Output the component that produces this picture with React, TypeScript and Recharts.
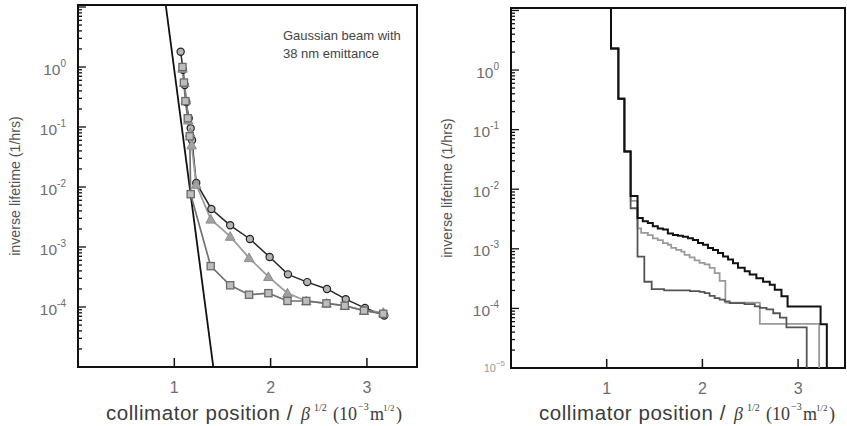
import React from 'react';
import { ComposedChart, Line, XAxis, YAxis, ReferenceArea } from 'recharts';

// ---------- Left panel data ----------
const circleX = [1.066, 1.09, 1.108, 1.125, 1.15, 1.17, 1.184, 1.228, 1.385, 1.58, 1.785, 1.99, 2.18, 2.38, 2.585, 2.78, 2.98, 3.18];
const circleY = [1.8, 0.9, 0.5, 0.26, 0.14, 0.095, 0.06, 0.0117, 0.0043, 0.0023, 0.00136, 0.00068, 0.00035, 0.00026, 0.0002, 0.000135, 0.000096, 0.000072];

const triangleX = [1.085, 1.105, 1.12, 1.145, 1.165, 1.18, 1.228, 1.378, 1.58, 1.776, 1.977, 2.175, 2.37, 2.58, 2.77, 2.97, 3.17];
const triangleY = [0.95, 0.55, 0.28, 0.13, 0.08, 0.05, 0.011, 0.0029, 0.0015, 0.00066, 0.00032, 0.00017, 0.000126, 0.000115, 0.000105, 0.000087, 0.000081];

const squareX = [1.085, 1.1, 1.115, 1.14, 1.16, 1.17, 1.378, 1.58, 1.776, 1.977, 2.175, 2.37, 2.58, 2.77, 2.97, 3.17];
const squareY = [1.0, 0.55, 0.27, 0.14, 0.07, 0.0076, 0.00048, 0.00023, 0.00016, 0.00017, 0.000126, 0.000126, 0.000115, 0.000105, 0.000087, 0.000077];

const gaussX = [0.911, 1.405];
const gaussY = [10.8, 0.00001];

// ---------- Right panel data (step histograms) ----------
const blackX = [1.0, 1.045, 1.122, 1.185, 1.25, 1.322, 1.377, 1.43, 1.482, 1.534, 1.587, 1.639, 1.692, 1.744, 1.796, 1.849, 1.901, 1.954, 2.006, 2.058, 2.111, 2.163, 2.216, 2.268, 2.32, 2.372, 2.442, 2.494, 2.564, 2.634, 2.704, 2.756, 2.826, 2.89, 3.235, 3.3];
const blackY = [100, 2.3, 0.33, 0.043, 0.0077, 0.0033, 0.0029, 0.0027, 0.0024, 0.0022, 0.0021, 0.0018, 0.0017, 0.00166, 0.0016, 0.0015, 0.0014, 0.00125, 0.00117, 0.00103, 0.00096, 0.00085, 0.00074, 0.00066, 0.00057, 0.00048, 0.00042, 0.00037, 0.00032, 0.00028, 0.00025, 0.000205, 0.00016, 0.000108, 0.000054, 0.0000001];

const lightX = [1.0, 1.045, 1.122, 1.185, 1.25, 1.322, 1.36, 1.43, 1.482, 1.534, 1.587, 1.639, 1.674, 1.726, 1.779, 1.814, 1.866, 1.919, 1.97, 2.023, 2.075, 2.128, 2.18, 2.24, 2.6, 3.22];
const lightY = [100, 2.3, 0.33, 0.043, 0.0064, 0.0022, 0.00185, 0.0017, 0.0015, 0.0014, 0.00125, 0.00117, 0.00104, 0.00096, 0.0009, 0.00079, 0.00072, 0.00064, 0.00058, 0.00055, 0.00048, 0.00039, 0.00029, 0.000125, 0.000055, 0.0000001];

const darkX = [1.0, 1.045, 1.122, 1.185, 1.25, 1.322, 1.393, 1.47, 1.6, 1.87, 1.97, 2.023, 2.075, 2.128, 2.18, 2.233, 2.285, 2.44, 2.547, 2.6, 2.67, 2.74, 2.81, 2.878, 3.09];
const darkY = [100, 2.3, 0.33, 0.043, 0.0048, 0.00074, 0.00028, 0.00021, 0.0002, 0.000195, 0.00019, 0.00018, 0.000162, 0.000149, 0.00014, 0.000131, 0.000123, 0.000118, 0.000108, 0.000102, 0.000096, 0.000083, 0.00007, 0.000048, 0.0000001];

// ---------- Axes ----------
const xTicks = [1, 2, 3];
const decades = [1e-5, 1e-4, 1e-3, 1e-2, 1e-1, 1];
const minorMultipliers = [1, 2, 3, 4, 5, 6, 7, 8, 9];
const yTicks = [...decades.flatMap((d) => minorMultipliers.map((m) => m * d)), 10];
const leftLabelExps = [0, -1, -2, -3, -4];
const rightLabelExps = [0, -1, -2, -3, -4];
const rightSmallExps = [-5];

const yTitle = 'inverse lifetime (1/hrs)';
const noteLines = ['Gaussian beam with', '38 nm emittance'];

const zip = (xs: number[], ys: number[]) => xs.map((x, i) => ({ x, y: ys[i] }));

const SANS = '"Liberation Sans", Arial, sans-serif';
const SERIF = '"Liberation Serif", "Times New Roman", serif';

const makeYTick = (labelExps: number[], smallExps: number[]) => (props: any) => {
  const { x, y, payload, index } = props;
  const v = payload.value as number;
  const lg = Math.log10(v);
  const exp = Math.round(lg);
  const major = Math.abs(lg - exp) < 1e-6;
  const len = major ? 8 : 4;
  let label: React.ReactNode = null;
  if (major && labelExps.includes(exp)) {
    label = (
      <text x={x - 12} y={y + 7.5} textAnchor="end" fontFamily={SANS} fontSize={15.5} fill="#6e6e6e">
        <tspan>10</tspan>
        <tspan dy={-8} fontSize={10}>{String(exp)}</tspan>
      </text>
    );
  } else if (major && smallExps.includes(exp)) {
    label = (
      <text x={x - 6} y={y + 4} textAnchor="end" fontFamily={SANS} fontSize={11} fill="#9a9a9a">
        <tspan>10</tspan>
        <tspan dy={-6} fontSize={8}>{'\u2212' + String(-exp)}</tspan>
      </text>
    );
  }
  return (
    <g key={`yt-${index}`}>
      <line x1={x} y1={y} x2={x + len} y2={y} stroke="#111" strokeWidth={1.3} />
      {label}
    </g>
  );
};

const XTick = (props: any) => {
  const { x, y, payload, index } = props;
  return (
    <g key={`xt-${index}`}>
      <line x1={x} y1={y} x2={x} y2={y - 9} stroke="#111" strokeWidth={1.5} />
      <text x={x} y={y + 26} textAnchor="middle" fontFamily={SANS} fontSize={16} fill="#6e6e6e">
        {payload.value}
      </text>
    </g>
  );
};

const XTitle = (props: any) => {
  const p = props.px0 as number;
  const b = props.base as number;
  return (
    <text fill="#3c3c3c">
      <tspan x={p + 28} y={b} fontFamily={SANS} fontSize={20.5} letterSpacing={0.55}>collimator position /</tspan>
      <tspan x={p + 223} y={b} fontFamily={SERIF} fontStyle="italic" fontSize={18}>β</tspan>
      <tspan x={p + 236} y={b - 9} fontFamily={SERIF} fontSize={10}>1/2</tspan>
      <tspan x={p + 255} y={b} fontFamily={SERIF} fontSize={18}>(10</tspan>
      <tspan x={p + 280} y={b - 10} fontFamily={SERIF} fontSize={10}>−3</tspan>
      <tspan x={p + 292} y={b} fontFamily={SERIF} fontSize={18}>m</tspan>
      <tspan x={p + 305} y={b - 9} fontFamily={SERIF} fontSize={9}>1/2</tspan>
      <tspan x={p + 318} y={b} fontFamily={SERIF} fontSize={18}>)</tspan>
    </text>
  );
};

const YTitle = (props: any) => {
  const ax = props.ax as number;
  const ay = props.ay as number;
  return (
    <text
      x={ax}
      y={ay}
      transform={`rotate(-90 ${ax} ${ay})`}
      textAnchor="middle"
      fontFamily={SANS}
      fontSize={14.2}
      fill="#555"
    >
      {yTitle}
    </text>
  );
};

const CircleDot = (p: any) => {
  if (p.cx == null || p.cy == null) return <g key={`c${p.index}`} />;
  return <circle key={`c${p.index}`} cx={p.cx} cy={p.cy} r={3.6} fill="#b4b4b4" stroke="#222" strokeWidth={1.2} />;
};
const TriDot = (p: any) => {
  if (p.cx == null || p.cy == null) return <g key={`t${p.index}`} />;
  const s = 4.8;
  return (
    <polygon
      key={`t${p.index}`}
      points={`${p.cx},${p.cy - s} ${p.cx - s},${p.cy + s * 0.8} ${p.cx + s},${p.cy + s * 0.8}`}
      fill="#a2a2a2"
      stroke="#8c8c8c"
      strokeWidth={1}
    />
  );
};
const SquareDot = (p: any) => {
  if (p.cx == null || p.cy == null) return <g key={`s${p.index}`} />;
  return (
    <rect key={`s${p.index}`} x={p.cx - 3.6} y={p.cy - 3.6} width={7.2} height={7.2} fill="#bdbdbd" stroke="#6a6a6a" strokeWidth={1.3} />
  );
};

const LEFT_YMAX = 10.8;
const RIGHT_YMAX = 11;

export default function App() {
  return (
    <div style={{ position: 'absolute', left: 0, top: 0, width: 847, height: 426, background: '#fff', overflow: 'hidden' }}>
      <div style={{ position: 'absolute', left: 0, top: 0 }}>
        <ComposedChart width={420} height={426} margin={{ top: 5, right: 3, left: 8, bottom: 0 }}>
          <XAxis
            type="number"
            dataKey="x"
            domain={[0, 3.52]}
            ticks={xTicks}
            allowDataOverflow
            axisLine={false}
            tickLine={false}
            tickSize={0}
            tickMargin={0}
            interval={0}
            height={59}
            tick={XTick}
            label={<XTitle px0={78} base={420} />}
          />
          <YAxis
            type="number"
            dataKey="y"
            scale="log"
            domain={[1e-5, LEFT_YMAX]}
            ticks={yTicks}
            allowDataOverflow
            axisLine={false}
            tickLine={false}
            tickSize={0}
            tickMargin={0}
            interval={0}
            width={70}
            tick={makeYTick(leftLabelExps, [])}
            label={<YTitle ax={20} ay={186} />}
          />
          <ReferenceArea x1={0} x2={3.52} y1={1e-5} y2={LEFT_YMAX} fill="none" stroke="#111" strokeWidth={2} ifOverflow="visible" />
          <Line data={zip(gaussX, gaussY)} dataKey="y" type="linear" stroke="#111" strokeWidth={1.8} dot={false} activeDot={false} isAnimationActive={false} />
          <Line data={zip(circleX, circleY)} dataKey="y" type="linear" stroke="#262626" strokeWidth={1.5} dot={CircleDot} activeDot={false} isAnimationActive={false} />
          <Line data={zip(triangleX, triangleY)} dataKey="y" type="linear" stroke="#9c9c9c" strokeWidth={1.8} dot={TriDot} activeDot={false} isAnimationActive={false} />
          <Line data={zip(squareX, squareY)} dataKey="y" type="linear" stroke="#707070" strokeWidth={1.7} dot={SquareDot} activeDot={false} isAnimationActive={false} />
        </ComposedChart>
      </div>
      <div
        style={{
          position: 'absolute',
          left: 283,
          top: 26.5,
          fontFamily: SANS,
          fontSize: 13,
          lineHeight: '18px',
          color: '#444',
          whiteSpace: 'nowrap',
        }}
      >
        {noteLines.map((t) => (
          <div key={t}>{t}</div>
        ))}
      </div>
      <div style={{ position: 'absolute', left: 420, top: 0 }}>
        <ComposedChart width={427} height={426} margin={{ top: 8, right: 2, left: 21, bottom: 0 }}>
          <XAxis
            type="number"
            dataKey="x"
            domain={[0, 3.49]}
            ticks={xTicks}
            allowDataOverflow
            axisLine={false}
            tickLine={false}
            tickSize={0}
            tickMargin={0}
            interval={0}
            height={58}
            tick={XTick}
            label={<XTitle px0={91} base={420} />}
          />
          <YAxis
            type="number"
            dataKey="y"
            scale="log"
            domain={[1e-5, RIGHT_YMAX]}
            ticks={yTicks}
            allowDataOverflow
            axisLine={false}
            tickLine={false}
            tickSize={0}
            tickMargin={0}
            interval={0}
            width={70}
            tick={makeYTick(rightLabelExps, rightSmallExps)}
            label={<YTitle ax={32} ay={188} />}
          />
          <ReferenceArea x1={0} x2={3.49} y1={1e-5} y2={RIGHT_YMAX} fill="none" stroke="#111" strokeWidth={2} ifOverflow="visible" />
          <Line data={zip(lightX, lightY)} dataKey="y" type="stepAfter" stroke="#9a9a9a" strokeWidth={1.8} dot={false} activeDot={false} isAnimationActive={false} />
          <Line data={zip(darkX, darkY)} dataKey="y" type="stepAfter" stroke="#555" strokeWidth={1.8} dot={false} activeDot={false} isAnimationActive={false} />
          <Line data={zip(blackX, blackY)} dataKey="y" type="stepAfter" stroke="#111" strokeWidth={2} dot={false} activeDot={false} isAnimationActive={false} />
        </ComposedChart>
      </div>
    </div>
  );
}
